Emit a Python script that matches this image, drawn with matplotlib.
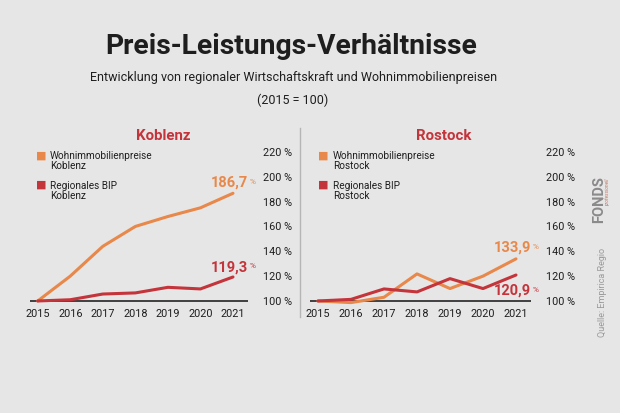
import matplotlib
matplotlib.use("Agg")
import matplotlib.pyplot as plt

# data (2015 = 100)
years = [2015, 2016, 2017, 2018, 2019, 2020, 2021]
koblenz_preise = [100, 120, 144, 160, 168, 175, 186.7]
koblenz_bip = [100, 101, 105.6, 106.5, 111, 109.7, 119.3]
rostock_preise = [100, 98.7, 103, 121.8, 110, 120, 133.9]
rostock_bip = [100, 101.3, 109.7, 107.3, 118, 110, 120.9]
yticks = [100, 120, 140, 160, 180, 200, 220]

ORANGE = "#e8884a"
RED = "#c4343b"
BG = "#e6e6e6"
DARK = "#1e1e1e"

plt.rcParams["font.family"] = ["Roboto", "DejaVu Sans"]

fig = plt.figure(figsize=(6.2, 4.13), dpi=100, facecolor=BG)

fig.text(0.47, 0.888, "Preis-Leistungs-Verhältnisse", ha="center", va="center",
         fontsize=20.3, fontweight="bold", color=DARK)
fig.text(0.473, 0.813, "Entwicklung von regionaler Wirtschaftskraft und Wohnimmobilienpreisen",
         ha="center", va="center", fontsize=9.0, color=DARK)
fig.text(0.472, 0.757, "(2015 = 100)", ha="center", va="center", fontsize=9.0, color=DARK)


def panel(rect, city, title_x, sq_x, preise, bip, yp, yb):
    ax = fig.add_axes(rect)
    ax.patch.set_alpha(0)
    ax.plot(years, preise, color=ORANGE, lw=2.2, solid_capstyle="round", zorder=3)
    ax.plot(years, bip, color=RED, lw=2.2, solid_capstyle="round", zorder=3)
    ax.axhline(100, color="#333333", lw=1.3, zorder=2)
    ax.set_xlim(2014.75, 2021.45)
    ax.set_ylim(95, 225)
    ax.set_xticks(years)
    ax.set_xticklabels([str(y) for y in years], fontsize=7.8, color=DARK)
    ax.set_yticks(yticks)
    ax.set_yticklabels(["%d %%" % v for v in yticks], fontsize=7.8, color=DARK)
    ax.yaxis.tick_right()
    ax.tick_params(axis="y", length=0, pad=11)
    ax.tick_params(axis="x", length=0, pad=1.5)
    for s in ax.spines.values():
        s.set_visible(False)

    # panel title and legend (figure coordinates)
    fig.text(title_x, 0.671, city, fontsize=10.8, fontweight="bold", color=RED,
             ha="center", va="center")
    tx = sq_x + 0.0145
    fig.text(sq_x, 0.624, "\u25a0", color=ORANGE, fontsize=8, ha="center", va="center")
    fig.text(tx, 0.61, "Wohnimmobilienpreise\n" + city, fontsize=7.2, ha="left",
             va="center", linespacing=1.0, color=DARK)
    fig.text(sq_x, 0.552, "\u25a0", color=RED, fontsize=8, ha="center", va="center")
    fig.text(tx, 0.538, "Regionales BIP\n" + city, fontsize=7.2, ha="left",
             va="center", linespacing=1.0, color=DARK)

    # end labels
    for val, y, col in [(preise[-1], yp, ORANGE), (bip[-1], yb, RED)]:
        s = ("%.1f" % val).replace(".", ",")
        ax.annotate(s, (2021, y), ha="right", va="center", fontsize=10.5,
                    fontweight="bold", color=col, xytext=(11, 0), textcoords="offset points")
        ax.annotate("%", (2021, y), ha="left", va="center", fontsize=6,
                    color=col, xytext=(12, 1), textcoords="offset points")
    return ax


panel([0.0477, 0.2562, 0.3517, 0.391], "Koblenz", 0.263, 0.066,
      koblenz_preise, koblenz_bip, 195, 127)
panel([0.4996, 0.2562, 0.3566, 0.391], "Rostock", 0.716, 0.522,
      rostock_preise, rostock_bip, 142.7, 108)

# separator
fig.add_artist(plt.Line2D([0.484, 0.484], [0.232, 0.69], color="#b5b5b5", lw=1))

fig.text(0.966, 0.518, "FONDS", rotation=90, ha="center", va="center",
         fontsize=10.5, fontweight="bold", color="#8a8a8a")
fig.text(0.98, 0.535, "professionell", rotation=90, ha="center", va="center",
         fontsize=3.5, style="italic", color="#c07a6a")
fig.text(0.971, 0.293, "Quelle: Empirica Regio", rotation=90, ha="center", va="center",
         fontsize=6.5, color="#9a9a9a")

fig.savefig("out.png", dpi=100, facecolor=BG)
